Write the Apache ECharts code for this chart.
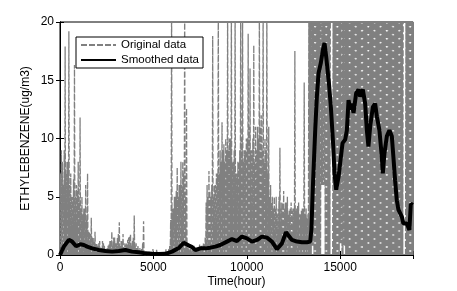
<!DOCTYPE html>
<html>
<head>
<meta charset="utf-8">
<script src="https://cdn.jsdelivr.net/npm/echarts@6/dist/echarts.min.js"></script>
<style>
  html, body { margin: 0; padding: 0; background: #fff; }
  #chart { width: 457px; height: 291px; }
</style>
</head>
<body>
<div id="chart"></div>
<script>
// ---- Data ----
// Original hourly data summarised per 100-hour bin (189 bins, 0..18900 h):
//   origFill  = level reached by the dense mass of readings in the bin
//   origPeaks = highest reading in the bin (null = gap in the record)
//   origLows  = [bin, lowest reading] for the few bins whose readings stay above 0
const ORIG_BIN_HOURS = 100;
const origFill = [
  7, 8, 9, 7, 8,            // 0
  6, 5, 6.5, 5, 5.5,        // 5
  4.5, 4, 3.5, 4, 3,        // 10
  2, 1.8, 1.5, 1.2, 1.0,    // 15
  0.8, 1.2, 0.6, 1.0, 0.5,  // 20
  0.6, 0.9, 1.2, 0.8, 1.5,  // 25
  1.0, 1.8, 0.8, 1.2, 0.7,  // 30
  0.9, 1.3, 1.6, 0.8, 1.5,  // 35
  0.8, 0.6, 0.4, 0.3, 1.0,  // 40
  0.2, 0.1, 0.2, 0.1, 0.2,  // 45
  0.1, 0.2, 0.1, 0.1, 0.1,  // 50
  0.2, 0.2, 0.2, 0.5, 3,    // 55
  4, 5, 5.5, 5, 6,          // 60
  6, 7, 5, 0.6, 0.4,        // 65
  0.3, 0.5, 0.3, 0.4, 0.5,  // 70
  0.5, 0.6, 1.0, 4.5, 5,    // 75
  5.5, 6, 5, 6, 7,          // 80
  7, 8, 9, 8, 9,            // 85
  9, 10, 8, 9, 7,           // 90
  8, 9, 10, 8, 9,           // 95
  10, 11, 9, 10, 8,         // 100
  9, 10, 11, 9, 8,          // 105
  9, 7, 5, 4.5, 4,          // 110
  4, 3.5, 5, 4, 4.5,        // 115
  4, 4.5, 3.5, 4, 3.8,      // 120
  4, 3.8, 4.2, 3.5, 3.8,    // 125
  4, 3.5, 3.2, 22, 22,      // 130
  22, 22, 22, 22, 22,       // 135
  22, 22, 22, 22, 22,       // 140
  null, 22, 22, 22, 22,     // 145
  22, 22, 22, 22, 22,       // 150
  22, 22, 22, 22, 22,       // 155
  22, 22, 22, 22, 22,       // 160
  22, 22, 22, 22, 22,       // 165
  22, 22, 22, 22, 22,       // 170
  22, 22, 22, 22, 22,       // 175
  22, 22, 22, 22, null,     // 180
  22, 22, 22, 22            // 185
];
const origPeaks = [
  9, 6, 17.9, 8, 19.2,      // 0
  7, 5, 16.3, 6, 8,         // 5
  11.8, 5, 4, 6, 7.0,       // 10
  2, 3.2, 1.5, 2, 1,        // 15
  1, 0.6, 1.2, 0.8, 0.5,    // 20
  0.8, 1.2, 2.0, 1.5, 1.0,  // 25
  1.5, 2.8, 1.2, 1.8, 1.0,  // 30
  1.0, 1.5, 1.8, 1.2, 3.4,  // 35
  1.0, 0.8, 0.6, 0.5, 2.9,  // 40
  0.3, 0.2, 0.3, 0.2, 0.5,  // 45
  0.2, 0.5, 0.2, 0.1, 0.2,  // 50
  0.2, 0.5, 0.3, 0.8, 22,   // 55
  4, 5, 7.5, 6, 8,          // 60
  8, 22, 12.6, 1.0, 0.6,    // 65
  0.5, 0.8, 0.4, 0.6, 0.9,  // 70
  0.8, 1.0, 1.5, 6.0, 7.2,  // 75
  5, 18.8, 6, 7, 22,        // 80
  9, 11.4, 9.5, 10, 22,     // 85
  10, 22, 8, 22, 7,         // 90
  8, 22, 21, 9, 10,         // 95
  19, 16, 9, 18, 11,        // 100
  11, 22, 12, 22, 10,       // 105
  22, 11, 6, 5, 5,          // 110
  5, 4, 9.2, 4.5, 5.5,      // 115
  4.5, 5, 3.8, 4.5, 4,      // 120
  17.5, 4, 4.5, 3.5, 4,     // 125
  14.8, 4, 3.5, 22, 22,     // 130
  22, 22, 22, 22, 22,       // 135
  22, 22, 22, 22, 22,       // 140
  null, 22, 22, 22, 22,     // 145
  22, 22, 22, 22, 22,       // 150
  22, 22, 22, 22, 22,       // 155
  22, 22, 22, 22, 22,       // 160
  22, 22, 22, 22, 22,       // 165
  22, 22, 22, 22, 22,       // 170
  22, 22, 22, 22, 22,       // 175
  22, 22, 22, 22, null,     // 180
  22, 22, 22, 22            // 185
];
const origLows = [[140, 6], [141, 6], [135, 0.8], [150, 1.0], [152, 0.8]];

// Smoothed data (hour, value)
const smoothHours = [
  0, 205, 472, 650, 864, 1096, 1275, 1453, 1720, 2077, 2433, 2790, 3146, 3503, 3860,
  4216, 4573, 4929, 5286, 5642, 5999, 6355, 6620, 6850, 7050, 7247, 7514, 7781, 8049,
  8316, 8583, 8940, 9207, 9475, 9743, 10010, 10278, 10545, 10813, 11080, 11348, 11615,
  11883, 12100, 12418, 12685, 12953, 13220, 13397, 13460, 13540, 13664, 13753, 13842,
  13967, 14074, 14163, 14253, 14324, 14413, 14503, 14610, 14699, 14788, 14913, 15038,
  15127, 15269, 15359, 15449, 15538, 15627, 15716, 15858, 15983, 16072, 16214, 16339,
  16429, 16514, 16606, 16750, 16873, 16964, 17103, 17231, 17285, 17370, 17499, 17638,
  17766, 17851, 17942, 18033, 18119, 18300, 18386, 18568, 18707, 18782, 18889
];
const smoothValues = [
  0, 0.72, 1.3, 1.15, 0.75, 0.92, 0.86, 0.72, 0.57, 0.43, 0.34, 0.29, 0.34, 0.43, 0.29,
  0.23, 0.14, 0.1, 0.08, 0.1, 0.29, 0.6, 1.05, 0.85, 0.7, 0.43, 0.57, 0.57, 0.63,
  0.72, 0.86, 1.15, 1.37, 1.2, 1.58, 1.43, 1.15, 1.29, 1.58, 1.49, 1.15, 0.5,
  1.0, 1.95, 1.29, 1.15, 1.09, 1.09, 1.15, 2.2, 5.9, 10.7, 13.6, 15.6,
  16.5, 17.6, 18.2, 17.0, 15.9, 14.5, 12.7, 9.9, 7.0, 5.6, 6.7, 8.4,
  9.6, 9.9, 10.7, 13.3, 12.5, 13.0, 12.2, 13.9, 14.2, 13.6, 14.2, 13.0,
  10.7, 9.3, 11.0, 12.7, 13.0, 11.9, 10.7, 8.4, 7.0, 8.7, 10.2, 10.7,
  10.2, 8.4, 6.4, 4.7, 3.9, 3.3, 2.7, 2.7, 2.15, 4.4, 4.3
];

const xTicks = [0, 5000, 10000, 15000];
const yTicks = [0, 5, 10, 15, 20];
const X_MAX = 18900;

// ---- Build series data ----
const lowByBin = {};
origLows.forEach(([b, v]) => { lowByBin[b] = v; });
const origData = [];
const q = ORIG_BIN_HOURS / 4;
origPeaks.forEach((p, i) => {
  const f = origFill[i];
  const lo = lowByBin[i] !== undefined ? lowByBin[i] : 0;
  const x0 = i * ORIG_BIN_HOURS;
  if (p === null || f === null) {
    origData.push([x0, '-'], [x0 + q, '-'], [x0 + 2 * q, '-'], [x0 + 3 * q, '-']);
  } else {
    origData.push([x0, lo], [x0 + q, f], [x0 + 2 * q, lo], [x0 + 3 * q, p]);
  }
});
origData.push([origPeaks.length * ORIG_BIN_HOURS, 0]);

const smoothData = smoothHours.map((h, i) => [h, smoothValues[i]]);

const FONT = 'Liberation Sans, Arial, sans-serif';

const chart = echarts.init(document.getElementById('chart'), null, { renderer: 'canvas' });
chart.setOption({
  animation: false,
  backgroundColor: '#ffffff',
  grid: {
    left: 60, right: 44, top: 22, bottom: 36,
    containLabel: false, outerBoundsMode: 'none',
    show: true, borderColor: '#000', borderWidth: 1, backgroundColor: 'transparent'
  },
  legend: {
    left: 76, top: 37,
    orient: 'vertical',
    data: ['Original data', 'Smoothed data'],
    itemWidth: 35, itemHeight: 10, itemGap: 3,
    padding: [2, 4, 2, 4],
    backgroundColor: '#fff',
    borderColor: '#000', borderWidth: 1,
    itemStyle: { opacity: 0 },
    textStyle: { fontFamily: FONT, fontSize: 11.5, color: '#000' }
  },
  xAxis: [{
    type: 'value', min: 0, max: X_MAX, interval: 5000,
    name: 'Time(hour)', nameLocation: 'middle', nameGap: 21, nameMoveOverlap: false,
    nameTextStyle: { fontFamily: FONT, fontSize: 12, color: '#000' },
    axisLine: { show: true, lineStyle: { color: '#000', width: 1 } },
    axisTick: { show: true, inside: true, length: 4, lineStyle: { color: '#000' } },
    axisLabel: {
      fontFamily: FONT, fontSize: 12, color: '#000', margin: 7,
      formatter: v => xTicks.includes(v) ? String(v) : ''
    },
    splitLine: { show: false }
  }, {
    type: 'value', position: 'top', min: 0, max: X_MAX, interval: 5000,
    axisLine: { show: true, lineStyle: { color: '#000' } },
    axisTick: { show: true, inside: true, length: 4, lineStyle: { color: '#000' } },
    axisLabel: { show: false }, splitLine: { show: false }
  }],
  yAxis: [{
    type: 'value', min: 0, max: 20, interval: 5,
    name: 'ETHYLEBENZENE(ug/m3)', nameLocation: 'middle', nameGap: 28, nameMoveOverlap: false,
    nameTextStyle: { fontFamily: FONT, fontSize: 12, color: '#000' },
    axisLine: { show: true, lineStyle: { color: '#000', width: 1 } },
    axisTick: { show: true, inside: true, length: 4, lineStyle: { color: '#000' } },
    axisLabel: {
      fontFamily: FONT, fontSize: 12, color: '#000', margin: 6,
      formatter: v => yTicks.includes(v) ? String(v) : ''
    },
    splitLine: { show: false }
  }, {
    type: 'value', position: 'right', min: 0, max: 20, interval: 5,
    axisLine: { show: true, lineStyle: { color: '#000' } },
    axisTick: { show: true, inside: true, length: 4, lineStyle: { color: '#000' } },
    axisLabel: { show: false }, splitLine: { show: false }
  }],
  series: [{
    name: 'Original data',
    type: 'line',
    data: origData,
    showSymbol: false, symbol: 'none',
    connectNulls: false,
    clip: true,
    lineStyle: { color: '#808080', width: 1.3, type: [6, 2] },
    itemStyle: { color: '#808080' },
    z: 2
  }, {
    name: 'Smoothed data',
    type: 'line',
    data: smoothData,
    showSymbol: false, symbol: 'none',
    clip: true,
    lineStyle: { color: '#000', width: 4 },
    itemStyle: { color: '#000' },
    z: 3
  }]
});
</script>
</body>
</html>
